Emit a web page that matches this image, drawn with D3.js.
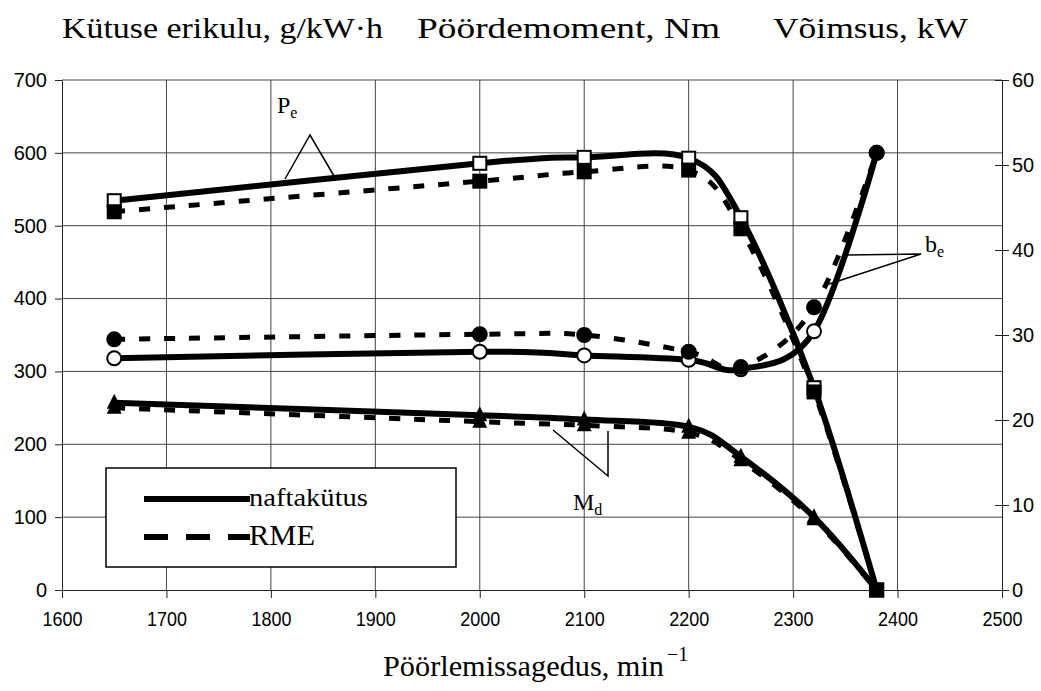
<!DOCTYPE html>
<html><head><meta charset="utf-8">
<script src="https://cdn.jsdelivr.net/npm/d3@7"></script>
<style>body{margin:0;background:#fff}svg{display:block}
.serif{font-family:"Liberation Serif","Times New Roman",Times,serif}
.sans{font-family:"Liberation Sans",Arial,Helvetica,sans-serif}
</style>
</head><body>
<script>
// ---- data ----
const rpm = [1650, 2000, 2100, 2200, 2250, 2320, 2380];
const peNaft = [45.8, 50.2, 50.9, 50.8, 43.8, 23.8, 0];
const peRme  = [44.5, 48.1, 49.2, 49.4, 42.5, 23.3, 0];
const beNaft = [318, 327, 322, 316, 303, 355, 600];
const beRme  = [344, 351, 350, 327, 306, 388, 600];
const mdNaft = [257, 240, 234, 224, 183, 100, 0];
const mdRme  = [250, 231, 226, 216, 178, 97, 0];
const xTicks = [1600,1700,1800,1900,2000,2100,2200,2300,2400,2500];
const yLeftTicks = [0,100,200,300,400,500,600,700];
const yRightTicks = [0,10,20,30,40,50,60];
const legendLabels = ["naftakütus","RME"];

const W=1041,H=691;
const svg=d3.select("body").append("svg").attr("width",W).attr("height",H);
const x=d3.scaleLinear([1600,2500],[62,1002]);
const yL=d3.scaleLinear([0,700],[590,80]);
const yR=d3.scaleLinear([0,60],[590,80]);

// grid
svg.append("g").selectAll("line").data(xTicks.slice(1,-1)).join("line")
  .attr("x1",d=>x(d)).attr("x2",d=>x(d)).attr("y1",yL(700)).attr("y2",yL(0))
  .attr("stroke","#444").attr("stroke-width",1);
svg.append("g").selectAll("line").data(yLeftTicks.slice(1)).join("line")
  .attr("x1",x(1600)).attr("x2",x(2500)).attr("y1",d=>yL(d)).attr("y2",d=>yL(d))
  .attr("stroke","#444").attr("stroke-width",1);

// axes
const fmt=d3.format("d");
const gL=svg.append("g").attr("transform",`translate(${x(1600)},0)`)
  .call(d3.axisLeft(yL).tickValues(yLeftTicks).tickFormat(fmt).tickSize(7).tickSizeOuter(0).tickPadding(8));
const gR=svg.append("g").attr("transform",`translate(${x(2500)},0)`)
  .call(d3.axisRight(yR).tickValues(yRightTicks).tickFormat(fmt).tickSize(7).tickSizeOuter(0).tickPadding(3));
gR.selectAll(".tick").append("line").attr("x2",-7).attr("stroke","#000");
const gB=svg.append("g").attr("transform",`translate(0,${yL(0)})`)
  .call(d3.axisBottom(x).tickValues(xTicks).tickFormat(fmt).tickSize(8).tickSizeOuter(0).tickPadding(14));
[gL,gR,gB].forEach(g=>{
  g.attr("font-family",null).attr("font-size",null);
  g.selectAll("text").attr("class","sans").style("font-size","20px").attr("fill","#000");
  g.selectAll("path,line").attr("stroke","#222");
});
gB.selectAll("text").attr("textLength",40).attr("lengthAdjust","spacingAndGlyphs");

// legend box (under the curves)
const lg=svg.append("g");
lg.append("rect").attr("x",106).attr("y",468).attr("width",350).attr("height",99)
  .attr("fill","#fff").attr("stroke","#000").attr("stroke-width",1.5);

// lines
const line=(ys,ysc)=>d3.line().x((d,i)=>x(rpm[i])).y(d=>ysc(d)).curve(d3.curveCardinal.tension(0))(ys);
const series=[
  {v:peNaft,s:yR,dash:null},{v:peRme,s:yR,dash:"11,14"},
  {v:beNaft,s:yL,dash:null},{v:beRme,s:yL,dash:"11,14"},
  {v:mdNaft,s:yL,dash:null},{v:mdRme,s:yL,dash:"11,14"}];
series.forEach(se=>{
  svg.append("path").attr("d",line(se.v,se.s)).attr("fill","none").attr("stroke","#000")
    .attr("stroke-width",se.dash?5:6).attr("stroke-dasharray",se.dash);
});

// markers
const sq=(vals,fill)=>svg.append("g").selectAll("rect").data(vals).join("rect")
  .attr("x",(d,i)=>x(rpm[i])-6.5).attr("y",d=>yR(d)-6.5).attr("width",13).attr("height",13)
  .attr("fill",fill).attr("stroke","#000").attr("stroke-width",2);
const circ=(vals,fill)=>svg.append("g").selectAll("circle").data(vals).join("circle")
  .attr("cx",(d,i)=>x(rpm[i])).attr("cy",d=>yL(d)).attr("r",7)
  .attr("fill",fill).attr("stroke","#000").attr("stroke-width",2);
const tri=(vals)=>svg.append("g").selectAll("path").data(vals).join("path")
  .attr("d",(d,i)=>{const cx=x(rpm[i]),cy=yL(d);return `M${cx},${cy-9}L${cx+7.5},${cy+6}L${cx-7.5},${cy+6}Z`;})
  .attr("fill","#000");
sq(peNaft,"#fff"); sq(peRme,"#000");
circ(beNaft,"#fff"); circ(beRme,"#000");
tri(mdNaft); tri(mdRme);

// legend content
lg.raise();
lg.append("line").attr("x1",144).attr("x2",250).attr("y1",499).attr("y2",499).attr("stroke","#000").attr("stroke-width",6);
lg.append("line").attr("x1",144).attr("x2",250).attr("y1",537).attr("y2",537).attr("stroke","#000").attr("stroke-width",6).attr("stroke-dasharray","24,18");
lg.append("text").attr("class","serif").attr("x",249).attr("y",506).style("font-size","26px")
  .attr("textLength",119).attr("lengthAdjust","spacingAndGlyphs").text(legendLabels[0]);
lg.append("text").attr("class","serif").attr("x",249).attr("y",545).style("font-size","29px")
  .attr("textLength",66).attr("lengthAdjust","spacingAndGlyphs").text(legendLabels[1]);

// annotations
const ann=svg.append("g").attr("stroke","#000").attr("stroke-width",1.5).attr("fill","none");
ann.append("polyline").attr("points","285,179 310,135 334,176");
ann.append("polyline").attr("points","847,255 921,254 823,286");
ann.append("polyline").attr("points","553,430 608,476 608,431");
const lab=(xx,yy,main,sub)=>{
  const t=svg.append("text").attr("class","serif").attr("x",xx).attr("y",yy).style("font-size","24px");
  t.append("tspan").text(main);
  t.append("tspan").style("font-size","16px").attr("dy",5).text(sub);
};
lab(277,113,"P","e");
lab(925,252,"b","e");
lab(573,510,"M","d");

// titles
const tt=(xx,yy,s,len)=>svg.append("text").attr("class","serif").attr("x",xx).attr("y",yy)
  .style("font-size","30px").attr("textLength",len).attr("lengthAdjust","spacingAndGlyphs").text(s);
tt(62,38,"Kütuse erikulu, g/kW·h",321);
tt(417,38,"Pöördemoment, Nm",303);
tt(773,38,"Võimsus, kW",195);
tt(383,676,"Pöörlemissagedus, min",281);
svg.append("text").attr("class","serif").attr("x",667).attr("y",661).style("font-size","20px").text("−1");
</script>
</body></html>
